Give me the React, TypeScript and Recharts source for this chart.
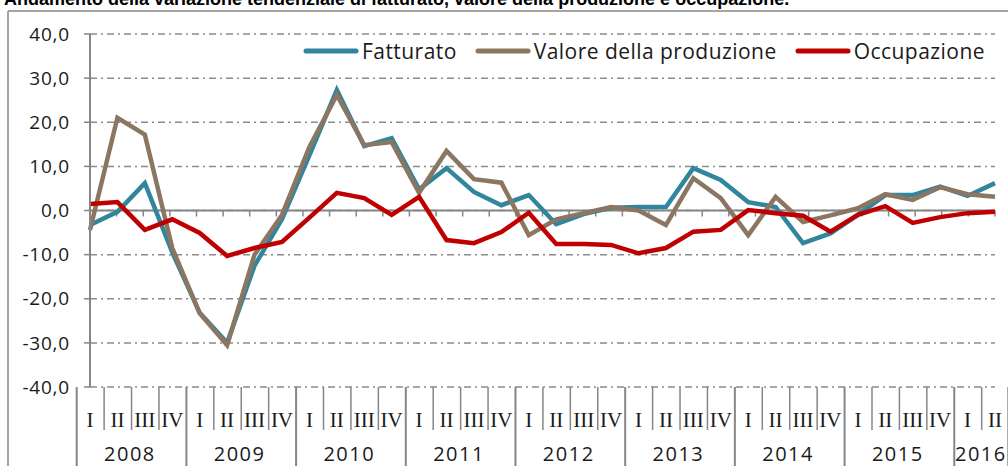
import React from 'react';
import { LineChart, Line, XAxis, YAxis, CartesianGrid, ReferenceLine } from 'recharts';

const quarterLabels = [
  'I', 'II', 'III', 'IV', 'I', 'II', 'III', 'IV', 'I', 'II', 'III', 'IV',
  'I', 'II', 'III', 'IV', 'I', 'II', 'III', 'IV', 'I', 'II', 'III', 'IV',
  'I', 'II', 'III', 'IV', 'I', 'II', 'III', 'IV', 'I', 'II',
];
const quarterYears = [
  '2008', '2008', '2008', '2008', '2009', '2009', '2009', '2009', '2010', '2010', '2010', '2010',
  '2011', '2011', '2011', '2011', '2012', '2012', '2012', '2012', '2013', '2013', '2013', '2013',
  '2014', '2014', '2014', '2014', '2015', '2015', '2015', '2015', '2016', '2016',
];
const fatturato = [
  -3.3, -0.3, 6.2, -9.5, -23.2, -30.0, -12.5, -2.0, 12.5, 27.3, 14.6, 16.4,
  4.8, 9.6, 4.2, 1.2, 3.5, -3.1, -0.8, 0.6, 0.8, 0.8, 9.6, 6.9,
  1.9, 0.8, -7.4, -5.2, -1.0, 3.5, 3.5, 5.4, 3.3, 6.2,
];
const valoreProduzione = [
  -4.4, 21.0, 17.2, -8.5, -23.3, -30.5, -10.0, -1.0, 14.4, 26.2, 14.8, 15.5,
  4.0, 13.5, 7.1, 6.3, -5.6, -2.0, -0.6, 0.8, 0.0, -3.3, 7.3, 2.8,
  -5.6, 3.1, -2.6, -1.1, 0.5, 3.7, 2.4, 5.3, 3.7, 3.1,
];
const occupazione = [
  1.5, 1.9, -4.4, -2.0, -5.1, -10.3, -8.5, -7.1, -1.6, 4.0, 2.8, -1.0,
  3.1, -6.7, -7.4, -4.9, -0.5, -7.6, -7.6, -7.8, -9.7, -8.5, -4.8, -4.4,
  0.1, -0.6, -1.2, -4.8, -1.0, 1.0, -2.8, -1.5, -0.6, -0.3,
];
const yTicks = [-40, -30, -20, -10, 0, 10, 20, 30, 40];
const seriesNames = ['Fatturato', 'Valore della produzione', 'Occupazione'];
const seriesKeys = ['fatturato', 'valore', 'occupazione'];
const seriesColors = ['#31859C', '#8B7662', '#C00000'];
const title = 'Andamento della variazione tendenziale di fatturato, valore della produzione e occupazione.';

const rows = quarterLabels.map((q, i) => ({
  key: `${quarterYears[i]}-${q}`,
  q,
  year: quarterYears[i],
  fatturato: fatturato[i],
  valore: valoreProduzione[i],
  occupazione: occupazione[i],
}));

const CHART_W = 1008;
const CHART_H = 466;
const MARGIN = { top: 34, right: 13, bottom: 0, left: 0 };
const YAXIS_W = 90;
const XAXIS_H = 79;
const PLOT_W = CHART_W - MARGIN.left - MARGIN.right - YAXIS_W;

const AXIS_GREY = '#868686';
const TEXT = '#1a1a1a';
const SANS = '"Open Sans", "Noto Sans", sans-serif';

const fmt = (v: number) => v.toFixed(1).replace('.', ',');

const CategoryTick = (props: any) => {
  const { x, y, index } = props;
  const n = rows.length;
  const band = PLOT_W / n;
  const left = x - band / 2;
  const yr = quarterYears[index];
  const isYearStart = index === 0 || quarterYears[index - 1] !== yr;
  const isLast = index === n - 1;
  const yearCount = quarterYears.filter((v) => v === yr).length;
  return (
    <g>
      <line
        x1={left}
        x2={left}
        y1={y}
        y2={isYearStart ? y + XAXIS_H + 2 : y + 43}
        stroke={AXIS_GREY}
        strokeWidth={isYearStart ? 2 : 1.5}
      />
      {isLast && (
        <line x1={left + band} x2={left + band} y1={y} y2={y + XAXIS_H + 2} stroke={AXIS_GREY} strokeWidth={2} />
      )}
      <text
        x={x}
        y={y + 33}
        textAnchor="middle"
        dominantBaseline="central"
        fontFamily='"Liberation Serif", "Times New Roman", serif'
        fontSize={21}
        fill={TEXT}
      >
        {quarterLabels[index]}
      </text>
      {isYearStart && (
        <text
          x={left + (yearCount * band) / 2}
          y={y + 66}
          textAnchor="middle"
          dominantBaseline="central"
          fontFamily={SANS}
          fontSize={20}
          letterSpacing={1.5}
          fill={TEXT}
        >
          {yr}
        </text>
      )}
    </g>
  );
};

const ZeroAxis = (p: any) => {
  const { x1, y1, x2 } = p;
  const n = rows.length;
  const step = (x2 - x1) / n;
  return (
    <g>
      <line x1={x1} x2={x2} y1={y1} y2={y1} stroke={AXIS_GREY} strokeWidth={2} />
      {Array.from({ length: n + 1 }, (_, k) => (
        <line
          key={k}
          x1={x1 + k * step}
          x2={x1 + k * step}
          y1={y1}
          y2={y1 + 6}
          stroke={AXIS_GREY}
          strokeWidth={1.5}
        />
      ))}
    </g>
  );
};

const LegendBox = () => (
  <div
    style={{
      position: 'absolute',
      left: 303,
      top: 37,
      display: 'flex',
      alignItems: 'center',
      fontFamily: SANS,
      fontSize: 21,
      letterSpacing: 0.45,
      color: TEXT,
      whiteSpace: 'nowrap',
      lineHeight: '28px',
    }}
  >
    {seriesNames.map((name, i) => (
      <div key={name} style={{ display: 'flex', alignItems: 'center', marginRight: i < 2 ? 18 : 0 }}>
        <svg width={56} height={8} style={{ marginRight: 3 }}>
          <line x1={3} x2={53} y1={4} y2={4} stroke={seriesColors[i]} strokeWidth={5} strokeLinecap="round" />
        </svg>
        <span>{name}</span>
      </div>
    ))}
  </div>
);

export default function App() {
  return (
    <div
      style={{
        position: 'absolute',
        left: 0,
        top: 0,
        width: CHART_W,
        height: CHART_H,
        overflow: 'hidden',
        background: '#fff',
      }}
    >
      <svg width={CHART_W} height={CHART_H} style={{ position: 'absolute', left: 0, top: 0 }}>
        <text x={4} y={5} fontFamily='"Liberation Sans", Arial, sans-serif' fontWeight="bold" fontSize={18} fill="#000">
          {title}
        </text>
        <line x1={8} x2={8} y1={11} y2={CHART_H} stroke={AXIS_GREY} strokeWidth={1.5} />
        <line x1={8} x2={CHART_W} y1={11} y2={11} stroke={AXIS_GREY} strokeWidth={1.5} />
      </svg>
      <div style={{ position: 'absolute', left: 0, top: 0 }}>
        <LineChart width={CHART_W} height={CHART_H} data={rows} margin={MARGIN}>
          <CartesianGrid vertical={false} stroke="#8c8c8c" strokeWidth={1.5} strokeDasharray="7 4 2 4" />
          <XAxis
            dataKey="key"
            interval={0}
            axisLine={false}
            tickLine={false}
            tickSize={0}
            tickMargin={0}
            height={XAXIS_H}
            tick={<CategoryTick />}
          />
          <YAxis
            width={YAXIS_W}
            domain={[-40, 40]}
            ticks={yTicks}
            tickFormatter={fmt}
            axisLine={{ stroke: AXIS_GREY, strokeWidth: 2 }}
            tickLine={{ stroke: AXIS_GREY, strokeWidth: 1.5 }}
            tickSize={6}
            tickMargin={14}
            tick={{ fontFamily: SANS, fontSize: 19, fill: TEXT, letterSpacing: 0.8 }}
          />
          <ReferenceLine y={0} shape={<ZeroAxis />} />
          {seriesKeys.map((k, i) => (
            <Line
              key={k}
              type="linear"
              dataKey={k}
              name={seriesNames[i]}
              stroke={seriesColors[i]}
              strokeWidth={4.5}
              dot={false}
              activeDot={false}
              isAnimationActive={false}
            />
          ))}
        </LineChart>
      </div>
      <LegendBox />
    </div>
  );
}
